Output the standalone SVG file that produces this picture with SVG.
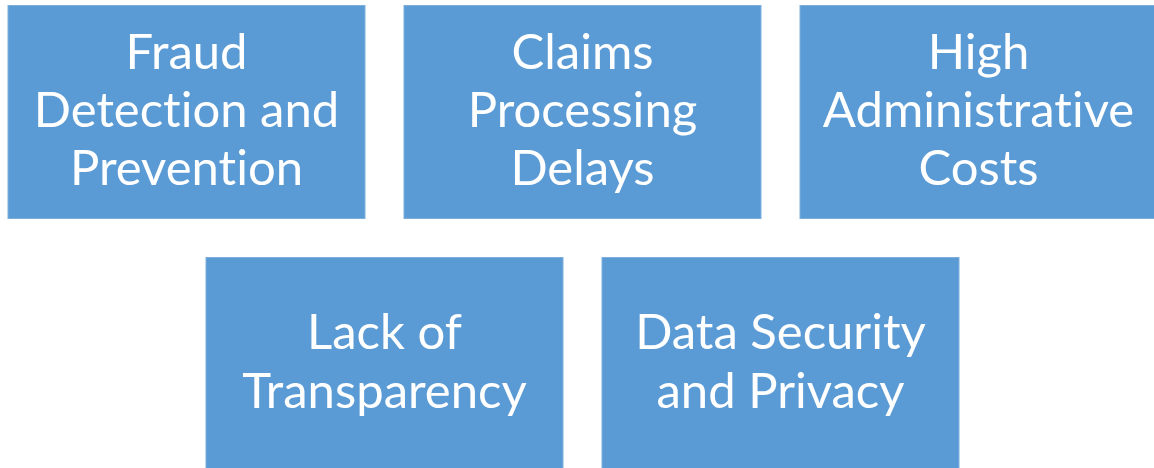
<svg xmlns="http://www.w3.org/2000/svg" width="1154" height="468" viewBox="0 0 1154 468">
<style>
.box{fill:#5B9BD5;stroke:#7DAFDD;stroke-width:1}
.t{fill:#FFFFFF;font-family:Lato,"Open Sans","Liberation Sans",sans-serif;font-size:49px;text-anchor:middle;font-variant-ligatures:none;font-feature-settings:"liga" 0,"clig" 0}
</style>
<rect width="1154" height="468" fill="#FFFFFF"/>
<g id="connectors"></g>
<g id="fraud">
<rect class="box" x="8" y="5.5" width="357" height="213"/>
<text class="t" x="186.5" y="69">Fraud</text>
<text class="t" x="186.5" y="127">Detection and</text>
<text class="t" x="186.5" y="185">Prevention</text>
</g>
<g id="claims">
<rect class="box" x="404" y="5.5" width="357" height="213"/>
<text class="t" x="582.5" y="69">Claims</text>
<text class="t" x="582.5" y="127">Processing</text>
<text class="t" x="582.5" y="185">Delays</text>
</g>
<g id="admin">
<rect class="box" x="800" y="5.5" width="357" height="213"/>
<text class="t" x="978.5" y="69">High</text>
<text class="t" x="978.5" y="127">Administrative</text>
<text class="t" x="978.5" y="185">Costs</text>
</g>
<g id="transparency">
<rect class="box" x="206" y="257.5" width="357" height="213"/>
<text class="t" x="384.5" y="349">Lack of</text>
<text class="t" x="384.5" y="408">Transparency</text>
</g>
<g id="security">
<rect class="box" x="602" y="257.5" width="357" height="213"/>
<text class="t" x="780.5" y="349">Data Security</text>
<text class="t" x="780.5" y="408">and Privacy</text>
</g>
</svg>
